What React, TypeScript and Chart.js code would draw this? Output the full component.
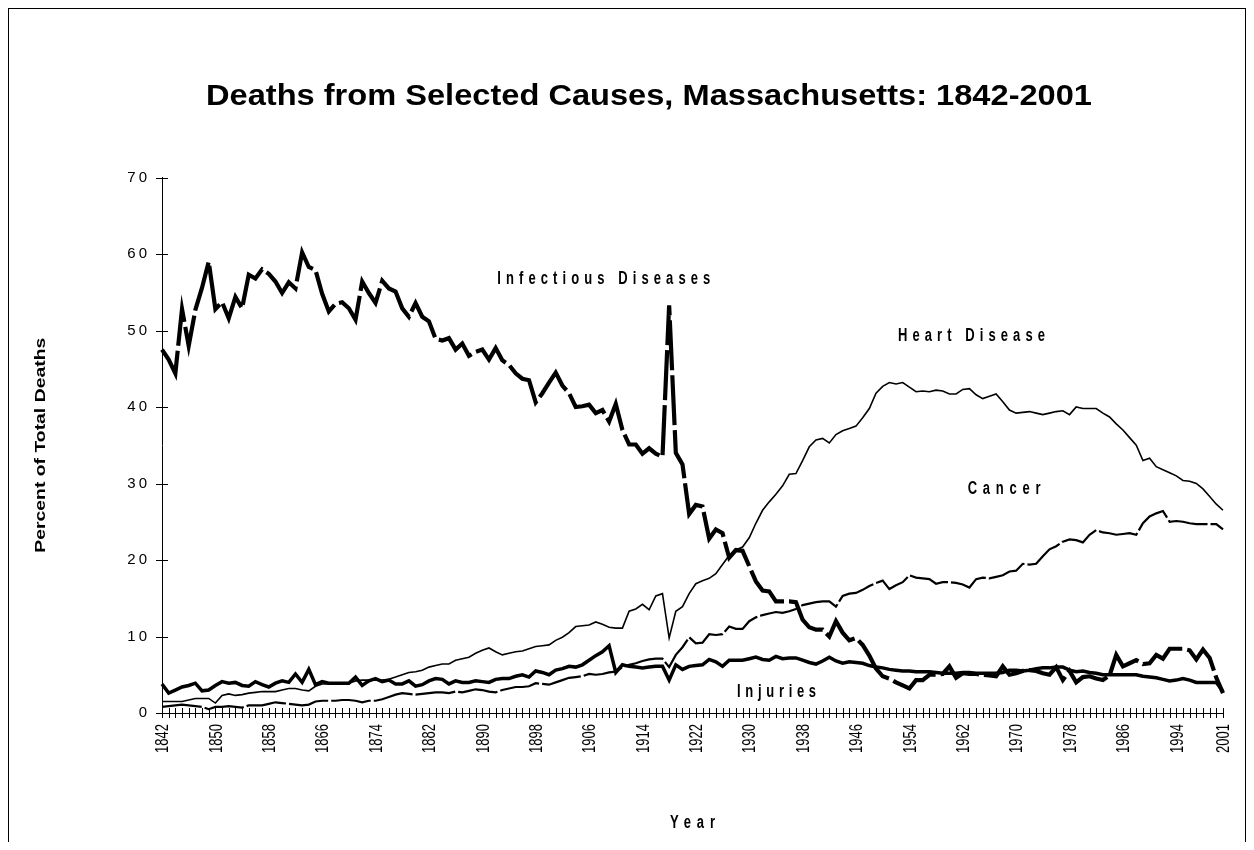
import React, { useEffect, useRef } from "react";
import { Chart, registerables } from "chart.js";

Chart.register(...registerables);

// ---------- data ----------
const FIRST_YEAR = 1842;
const LAST_YEAR = 2001;
const years: string[] = [];
for (let y = FIRST_YEAR; y <= LAST_YEAR; y++) years.push(String(y));

const xTickYears = [
  "1842", "1850", "1858", "1866", "1874", "1882", "1890", "1898", "1906", "1914",
  "1922", "1930", "1938", "1946", "1954", "1962", "1970", "1978", "1986", "1994", "2001",
];
const yTickValues = [0, 10, 20, 30, 40, 50, 60, 70];

const chartTitle = "Deaths from Selected Causes, Massachusetts: 1842-2001";
const yAxisTitle = "Percent of Total Deaths";
const xAxisTitle = "Year";
const seriesNames = ["Infectious Diseases", "Heart Disease", "Cancer", "Injuries"];

// percent of total deaths, 1842..2001 (10 years per row)
const infectious = [
  47.5, 46.2, 44.4, 52.8, 48.0, 52.7, 55.6, 59.0, 52.8, 53.7,
  51.6, 54.4, 52.9, 57.3, 56.8, 58.0, 57.4, 56.4, 54.9, 56.3,
  55.5, 60.2, 58.3, 57.9, 54.8, 52.5, 53.5, 53.7, 52.9, 51.4,
  56.4, 54.9, 53.6, 56.5, 55.5, 55.1, 52.9, 51.8, 53.6, 51.8,
  51.2, 48.9, 48.7, 49.0, 47.5, 48.3, 46.7, 47.2, 47.5, 46.2,
  47.7, 46.1, 45.5, 44.4, 43.7, 43.5, 40.6, 41.8, 43.2, 44.5,
  42.8, 41.8, 40.0, 40.1, 40.3, 39.2, 39.6, 38.1, 40.4, 37.0,
  35.1, 35.1, 33.9, 34.6, 33.9, 33.5, 53.3, 34.0, 32.5, 26.0,
  27.2, 27.0, 22.8, 24.0, 23.5, 20.3, 21.3, 21.2, 19.2, 17.2,
  16.0, 15.9, 14.6, 14.6, 14.6, 14.5, 12.2, 11.2, 10.9, 10.9,
  10.0, 12.0, 10.5, 9.5, 9.8, 8.9, 7.5, 5.8, 4.8, 4.5,
  4.0, 3.6, 3.2, 4.3, 4.3, 5.0, 5.0, 5.1, 6.1, 4.6,
  5.2, 5.1, 5.1, 5.0, 4.9, 4.8, 6.1, 5.0, 5.2, 5.5,
  5.6, 5.5, 5.2, 5.0, 6.0, 4.3, 5.5, 4.0, 4.7, 4.8,
  4.5, 4.3, 4.9, 7.6, 6.1, 6.5, 6.9, 6.4, 6.5, 7.6,
  7.1, 8.4, 8.4, 8.4, 8.2, 7.0, 8.3, 7.2, 4.6, 2.6,
];

const heartDisease = [
  1.5, 1.5, 1.5, 1.5, 1.7, 1.9, 1.9, 1.9, 1.3, 2.3,
  2.5, 2.3, 2.4, 2.6, 2.7, 2.8, 2.8, 2.8, 3.0, 3.2,
  3.2, 3.0, 2.9, 3.5, 3.8, 3.8, 3.8, 3.9, 3.9, 4.2,
  4.3, 4.3, 4.3, 4.3, 4.4, 4.7, 5.0, 5.3, 5.4, 5.6,
  6.0, 6.2, 6.4, 6.4, 6.9, 7.1, 7.3, 7.8, 8.2, 8.5,
  8.0, 7.6, 7.8, 8.0, 8.1, 8.4, 8.7, 8.8, 8.9, 9.5,
  9.9, 10.5, 11.3, 11.4, 11.5, 11.9, 11.6, 11.2, 11.1, 11.1,
  13.3, 13.6, 14.2, 13.5, 15.3, 15.6, 9.8, 13.3, 13.9, 15.6,
  16.9, 17.3, 17.6, 18.2, 19.4, 20.6, 21.3, 21.7, 22.9, 24.8,
  26.5, 27.6, 28.6, 29.7, 31.2, 31.3, 33.0, 34.8, 35.7, 35.9,
  35.3, 36.4, 36.9, 37.2, 37.5, 38.6, 39.8, 41.8, 42.7, 43.2,
  43.0, 43.2, 42.6, 42.0, 42.1, 42.0, 42.2, 42.1, 41.7, 41.7,
  42.3, 42.4, 41.6, 41.1, 41.4, 41.7, 40.7, 39.6, 39.2, 39.3,
  39.4, 39.2, 39.0, 39.2, 39.4, 39.5, 39.0, 40.0, 39.8, 39.8,
  39.8, 39.2, 38.7, 37.8, 37.0, 36.0, 35.0, 33.0, 33.3, 32.2,
  31.8, 31.4, 31.0, 30.4, 30.3, 30.0, 29.3, 28.3, 27.3, 26.5,
];

const cancer = [
  0.8, 0.9, 1.0, 1.1, 1.0, 0.9, 0.8, 0.5, 0.8, 0.8,
  0.9, 0.8, 0.7, 1.0, 1.0, 1.0, 1.2, 1.4, 1.3, 1.2,
  1.1, 1.0, 1.1, 1.5, 1.6, 1.6, 1.6, 1.7, 1.7, 1.6,
  1.4, 1.6, 1.6, 1.8, 2.1, 2.4, 2.6, 2.5, 2.4, 2.5,
  2.6, 2.7, 2.7, 2.6, 2.8, 2.7, 2.9, 3.1, 3.0, 2.8,
  2.7, 3.0, 3.2, 3.4, 3.4, 3.5, 3.9, 3.8, 3.7, 4.0,
  4.3, 4.6, 4.7, 4.8, 5.1, 5.0, 5.1, 5.3, 5.4, 6.0,
  6.3, 6.5, 6.8, 7.0, 7.1, 7.1, 6.0, 7.6, 8.6, 9.9,
  9.1, 9.2, 10.3, 10.2, 10.3, 11.3, 11.0, 11.0, 12.0, 12.5,
  12.8, 13.0, 13.2, 13.1, 13.3, 13.6, 14.1, 14.3, 14.5, 14.6,
  14.6, 13.9, 15.3, 15.6, 15.7, 16.1, 16.6, 17.0, 17.3, 16.2,
  16.7, 17.1, 18.0, 17.7, 17.6, 17.5, 16.9, 17.1, 17.1, 17.0,
  16.8, 16.4, 17.5, 17.7, 17.6, 17.8, 18.0, 18.5, 18.6, 19.5,
  19.4, 19.5, 20.5, 21.4, 21.8, 22.4, 22.7, 22.6, 22.3, 23.3,
  23.9, 23.6, 23.5, 23.3, 23.4, 23.5, 23.3, 24.8, 25.7, 26.1,
  26.4, 25.0, 25.1, 25.0, 24.8, 24.7, 24.7, 24.7, 24.7, 24.0,
];

const injuries = [
  3.8, 2.6, 3.0, 3.4, 3.6, 3.9, 2.9, 3.0, 3.6, 4.1,
  3.9, 4.0, 3.6, 3.5, 4.1, 3.7, 3.4, 3.9, 4.2, 4.0,
  5.1, 4.0, 5.7, 3.7, 4.1, 3.9, 3.9, 3.9, 3.9, 4.7,
  3.6, 4.2, 4.5, 4.1, 4.3, 3.8, 3.8, 4.2, 3.5, 3.7,
  4.2, 4.5, 4.4, 3.8, 4.2, 4.0, 4.0, 4.2, 4.1, 4.0,
  4.4, 4.5, 4.5, 4.8, 5.0, 4.7, 5.5, 5.3, 5.0, 5.6,
  5.8, 6.1, 6.0, 6.3, 6.9, 7.5, 8.0, 8.8, 5.3, 6.3,
  6.1, 6.0, 5.9, 6.0, 6.1, 6.1, 4.3, 6.3, 5.7, 6.1,
  6.2, 6.3, 7.0, 6.7, 6.1, 6.9, 6.9, 6.9, 7.1, 7.3,
  7.0, 6.9, 7.4, 7.1, 7.2, 7.2, 6.9, 6.6, 6.4, 6.8,
  7.3, 6.8, 6.5, 6.7, 6.6, 6.5, 6.2, 6.0, 5.9, 5.7,
  5.6, 5.5, 5.5, 5.4, 5.4, 5.4, 5.3, 5.2, 5.2, 5.2,
  5.3, 5.3, 5.2, 5.2, 5.2, 5.2, 5.3, 5.6, 5.6, 5.5,
  5.6, 5.8, 5.9, 5.9, 6.0, 6.0, 5.6, 5.4, 5.5, 5.3,
  5.2, 5.0, 5.0, 5.0, 5.0, 5.0, 5.0, 4.8, 4.7, 4.6,
  4.4, 4.2, 4.3, 4.5, 4.3, 4.0, 4.0, 4.0, 4.0, 2.8,
];

// ---------- layout / style (canvas pixel coordinates) ----------
const CANVAS_W = 1236;
const CANVAS_H = 841;
const PLOT_LEFT = 153;
const PLOT_RIGHT = 1214;
const PLOT_TOP = 168.5;
const PLOT_BOTTOM = 704;
const FONT = '"Liberation Sans", Arial, Helvetica, sans-serif';

// label placement: anchor in data units (year, value) + target text width
const seriesLabelStyle = [
  { x: 1908.2, y: 56.9, width: 213 },
  { x: 1963.3, y: 49.4, width: 147 },
  { x: 1968.2, y: 29.5, width: 73 },
  { x: 1934.1, y: 2.9, width: 79 },
];

type TextOpts = {
  size: number;
  bold?: boolean;
  width?: number;
  capHeight?: number;
  mode?: "spacing" | "scale";
  rotate?: boolean;
};

function drawText(ctx: CanvasRenderingContext2D, text: string, cx: number, baseY: number, o: TextOpts) {
  ctx.save();
  ctx.translate(cx, baseY);
  if (o.rotate) ctx.rotate(-Math.PI / 2);
  ctx.font = `${o.bold ? "bold " : ""}${o.size}px ${FONT}`;
  ctx.fillStyle = "#000";
  ctx.textBaseline = "alphabetic";
  const w = ctx.measureText(text).width;
  const sy = o.capHeight ? o.capHeight / (o.size * 0.716) : 1;
  const anyCtx = ctx as any;
  if (o.width && o.mode === "spacing" && "letterSpacing" in anyCtx && text.length > 1) {
    const sp = (o.width - w) / (text.length - 1);
    anyCtx.letterSpacing = `${sp}px`;
    ctx.scale(1, sy);
    ctx.textAlign = "left";
    ctx.fillText(text, -o.width / 2, 0);
  } else {
    const sx = o.width ? o.width / w : 1;
    ctx.scale(sx, sy);
    ctx.textAlign = "center";
    ctx.fillText(text, 0, 0);
  }
  ctx.restore();
}

const X_LABEL_SIZE = 13;
const X_LABEL_CAP = 12.5;
const X_LABEL_GAP = 11;
const Y_LABEL_SIZE = 15;
const Y_LABEL_SPACING = 3;
const Y_LABEL_GAP = 15;

const overlayPlugin = {
  id: "overlay",
  afterDraw(chart: any) {
    const ctx: CanvasRenderingContext2D = chart.ctx;
    const { left, right, top, bottom } = chart.chartArea;
    const xs = chart.scales.x;
    const ys = chart.scales.y;
    ctx.save();
    ctx.strokeStyle = "#000";
    ctx.lineWidth = 1;
    // crossing tick marks
    for (const v of yTickValues) {
      const py = Math.round(ys.getPixelForValue(v)) + 0.5;
      ctx.beginPath();
      ctx.moveTo(left - 6, py);
      ctx.lineTo(left + 6, py);
      ctx.stroke();
    }
    for (let i = 0; i < years.length; i++) {
      const px = Math.round(xs.getPixelForValue(i)) + 0.5;
      ctx.beginPath();
      ctx.moveTo(px, bottom - 5);
      ctx.lineTo(px, bottom + 5);
      ctx.stroke();
    }
    ctx.restore();

    // value labels on the y axis
    for (const v of yTickValues) {
      const py = ys.getPixelForValue(v);
      ctx.save();
      ctx.font = `${Y_LABEL_SIZE}px ${FONT}`;
      ctx.fillStyle = "#000";
      ctx.textAlign = "right";
      ctx.textBaseline = "middle";
      const anyCtx = ctx as any;
      let extra = 0;
      if ("letterSpacing" in anyCtx) {
        anyCtx.letterSpacing = `${Y_LABEL_SPACING}px`;
        extra = Y_LABEL_SPACING;
      }
      ctx.fillText(String(v), left - Y_LABEL_GAP + extra, py);
      ctx.restore();
    }

    // rotated category labels (condensed look, as in the original)
    for (const yr of xTickYears) {
      const idx = years.indexOf(yr);
      const px = xs.getPixelForValue(idx);
      ctx.save();
      ctx.translate(px, bottom + X_LABEL_GAP);
      ctx.rotate(-Math.PI / 2);
      const sy = X_LABEL_CAP / (X_LABEL_SIZE * 0.716);
      ctx.scale(1, sy);
      ctx.font = `${X_LABEL_SIZE}px ${FONT}`;
      ctx.fillStyle = "#000";
      ctx.textAlign = "right";
      ctx.textBaseline = "alphabetic";
      ctx.fillText(yr, 0, (X_LABEL_SIZE * 0.716) / 2);
      ctx.restore();
    }

    // titles
    drawText(ctx, chartTitle, 640, 96, { size: 24, bold: true, width: 886, capHeight: 21, mode: "scale" });
    drawText(ctx, yAxisTitle, 36, (top + bottom) / 2, {
      size: 13, bold: true, width: 215, capHeight: 10, mode: "scale", rotate: true,
    });
    drawText(ctx, xAxisTitle, (left + right) / 2, 819, { size: 13, bold: true, width: 45, capHeight: 13, mode: "spacing" });

    // series labels
    seriesNames.forEach((name, i) => {
      const s = seriesLabelStyle[i];
      const px = xs.getPixelForValue(s.x - FIRST_YEAR);
      const py = ys.getPixelForValue(s.y) + 6.3;
      drawText(ctx, name, px, py, { size: 13, bold: true, width: s.width, capHeight: 12.7, mode: "spacing" });
    });
  },
};

export default function App() {
  const canvasRef = useRef<HTMLCanvasElement | null>(null);

  useEffect(() => {
    const canvas = canvasRef.current;
    if (!canvas) return;
    const chart = new Chart(canvas, {
      type: "line",
      data: {
        labels: years,
        datasets: [
          {
            label: seriesNames[0],
            data: infectious,
            borderColor: "#000",
            borderWidth: 4.2,
            borderDash: [50, 5],
            pointRadius: 0,
            fill: false,
            tension: 0,
          },
          {
            label: seriesNames[1],
            data: heartDisease,
            borderColor: "#000",
            borderWidth: 1.6,
            pointRadius: 0,
            fill: false,
            tension: 0,
          },
          {
            label: seriesNames[2],
            data: cancer,
            borderColor: "#000",
            borderWidth: 2.2,
            borderDash: [40, 3],
            pointRadius: 0,
            fill: false,
            tension: 0,
          },
          {
            label: seriesNames[3],
            data: injuries,
            borderColor: "#000",
            borderWidth: 3.5,
            pointRadius: 0,
            fill: false,
            tension: 0,
          },
        ],
      },
      options: {
        responsive: false,
        animation: false,
        devicePixelRatio: 1,
        layout: {
          padding: { left: 0, right: CANVAS_W - PLOT_RIGHT, top: PLOT_TOP, bottom: 0 },
        },
        plugins: {
          legend: { display: false },
          title: { display: false },
          tooltip: { enabled: false },
        },
        scales: {
          x: {
            type: "category",
            offset: false,
            grid: { display: false, drawTicks: false },
            border: { display: true, color: "#000", width: 1 },
            ticks: { display: false, autoSkip: false },
            afterFit: (s: any) => {
              s.height = CANVAS_H - PLOT_BOTTOM;
            },
          },
          y: {
            min: 0,
            max: 70,
            grid: { display: false, drawTicks: false },
            border: { display: true, color: "#000", width: 1 },
            ticks: { display: false, stepSize: 10 },
            afterFit: (s: any) => {
              s.width = PLOT_LEFT;
            },
          },
        },
      },
      plugins: [overlayPlugin],
    });
    return () => chart.destroy();
  }, []);

  return (
    <div style={{ height: 834, overflow: "hidden" }}>
      <div style={{ width: CANVAS_W, height: 860, border: "1px solid #000", background: "#fff" }}>
        <canvas ref={canvasRef} width={CANVAS_W} height={CANVAS_H} style={{ display: "block" }} />
      </div>
    </div>
  );
}
